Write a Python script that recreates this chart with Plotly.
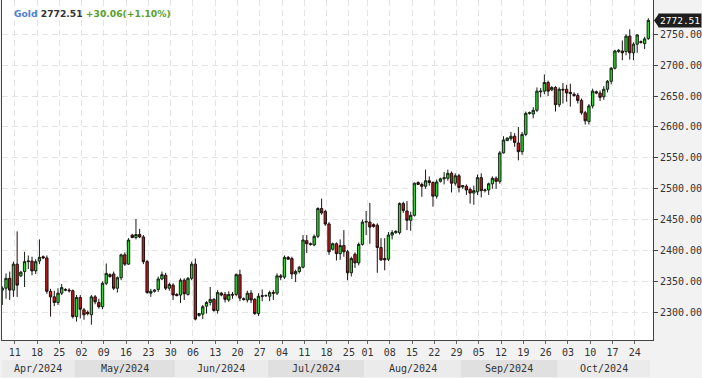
import datetime as dt
import plotly.graph_objects as go

# ---------------- data ----------------
dates = [
    "2024-04-08", "2024-04-09", "2024-04-10", "2024-04-11", "2024-04-12",
    "2024-04-14", "2024-04-15", "2024-04-16", "2024-04-17", "2024-04-18", "2024-04-19",
    "2024-04-21", "2024-04-22", "2024-04-23", "2024-04-24", "2024-04-25", "2024-04-26",
    "2024-04-28", "2024-04-29", "2024-04-30", "2024-05-01", "2024-05-02", "2024-05-03",
    "2024-05-05", "2024-05-06", "2024-05-07", "2024-05-08", "2024-05-09", "2024-05-10",
    "2024-05-12", "2024-05-13", "2024-05-14", "2024-05-15", "2024-05-16", "2024-05-17",
    "2024-05-19", "2024-05-20", "2024-05-21", "2024-05-22", "2024-05-23", "2024-05-24",
    "2024-05-26", "2024-05-27", "2024-05-28", "2024-05-29", "2024-05-30", "2024-05-31",
    "2024-06-02", "2024-06-03", "2024-06-04", "2024-06-05", "2024-06-06", "2024-06-07",
    "2024-06-09", "2024-06-10", "2024-06-11", "2024-06-12", "2024-06-13", "2024-06-14",
    "2024-06-16", "2024-06-17", "2024-06-18", "2024-06-19", "2024-06-20", "2024-06-21",
    "2024-06-23", "2024-06-24", "2024-06-25", "2024-06-26", "2024-06-27", "2024-06-28",
    "2024-06-30", "2024-07-01", "2024-07-02", "2024-07-03", "2024-07-04", "2024-07-05",
    "2024-07-07", "2024-07-08", "2024-07-09", "2024-07-10", "2024-07-11", "2024-07-12",
    "2024-07-14", "2024-07-15", "2024-07-16", "2024-07-17", "2024-07-18", "2024-07-19",
    "2024-07-21", "2024-07-22", "2024-07-23", "2024-07-24", "2024-07-25", "2024-07-26",
    "2024-07-29", "2024-07-30", "2024-07-31", "2024-08-01", "2024-08-02",
    "2024-08-04", "2024-08-05", "2024-08-06", "2024-08-07", "2024-08-08", "2024-08-09",
    "2024-08-11", "2024-08-12", "2024-08-13", "2024-08-14", "2024-08-15", "2024-08-16",
    "2024-08-18", "2024-08-19", "2024-08-20", "2024-08-21", "2024-08-22", "2024-08-23",
    "2024-08-25", "2024-08-26", "2024-08-27", "2024-08-28", "2024-08-29", "2024-08-30",
    "2024-09-01", "2024-09-02", "2024-09-03", "2024-09-04", "2024-09-05", "2024-09-06",
    "2024-09-08", "2024-09-09", "2024-09-10", "2024-09-11", "2024-09-12", "2024-09-13",
    "2024-09-15", "2024-09-16", "2024-09-17", "2024-09-18", "2024-09-19", "2024-09-20",
    "2024-09-22", "2024-09-23", "2024-09-24", "2024-09-25", "2024-09-26", "2024-09-27",
    "2024-09-29", "2024-09-30", "2024-10-01", "2024-10-02", "2024-10-03", "2024-10-04",
    "2024-10-06", "2024-10-07", "2024-10-08", "2024-10-09", "2024-10-10", "2024-10-11",
    "2024-10-13", "2024-10-14", "2024-10-15", "2024-10-16", "2024-10-17", "2024-10-18",
    "2024-10-20", "2024-10-21", "2024-10-22", "2024-10-23", "2024-10-24", "2024-10-25",
    "2024-10-27", "2024-10-28", "2024-10-29",
]

opens = [
    2336, 2339, 2355, 2336, 2378,
    2359, 2366, 2382, 2383, 2367, 2383,
    2390, 2388, 2334, 2325, 2316, 2331,
    2337, 2336, 2335, 2293, 2324, 2304,
    2300, 2296, 2325, 2316, 2309, 2347,
    2361, 2362, 2339, 2356, 2393, 2378,
    2425, 2421, 2426, 2422, 2382, 2331,
    2334, 2337, 2354, 2360, 2339, 2344,
    2329, 2328, 2352, 2329, 2355, 2378,
    2295, 2297, 2310, 2316, 2321, 2303,
    2331, 2329, 2320, 2329, 2329, 2361,
    2322, 2320, 2331, 2321, 2298, 2327,
    2327, 2326, 2332, 2331, 2359, 2357,
    2389, 2387, 2362, 2366, 2373, 2416,
    2411, 2409, 2423, 2468, 2463, 2443,
    2402, 2411, 2395, 2408, 2398, 2364,
    2394, 2380, 2410, 2446, 2446,
    2442, 2441, 2405, 2387, 2386, 2425,
    2429, 2429, 2476, 2464, 2449, 2457,
    2510, 2507, 2504, 2513, 2510, 2488,
    2512, 2516, 2517, 2525, 2509, 2521,
    2503, 2504, 2499, 2493, 2495, 2518,
    2497, 2498, 2508, 2517, 2512, 2558,
    2578, 2581, 2585, 2574, 2560, 2588,
    2622, 2621, 2627, 2657, 2658, 2672,
    2660, 2664, 2636, 2661, 2661, 2656,
    2653, 2651, 2643, 2623, 2609, 2634,
    2657, 2655, 2649, 2661, 2674, 2695,
    2722, 2723, 2722, 2747, 2720, 2734,
    2738, 2735, 2743,
]

highs = [
    2342, 2363, 2366, 2382, 2431,
    2367, 2398, 2392, 2390, 2386, 2418,
    2392, 2392, 2338, 2335, 2339, 2346,
    2339, 2339, 2337, 2328, 2328, 2307,
    2303, 2328, 2328, 2322, 2350, 2379,
    2363, 2366, 2358, 2395, 2397, 2420,
    2427, 2451, 2435, 2425, 2385, 2338,
    2337, 2358, 2366, 2364, 2348, 2347,
    2331, 2355, 2355, 2357, 2382, 2387,
    2299, 2312, 2318, 2341, 2323, 2336,
    2333, 2333, 2334, 2333, 2363, 2369,
    2324, 2335, 2336, 2323, 2331, 2337,
    2329, 2335, 2336, 2363, 2362, 2392,
    2391, 2390, 2369, 2375, 2425, 2425,
    2413, 2426, 2470, 2484, 2466, 2446,
    2413, 2413, 2418, 2433, 2401, 2390,
    2397, 2413, 2450, 2464, 2477,
    2444, 2444, 2420, 2420, 2430, 2433,
    2433, 2478, 2479, 2480, 2463, 2510,
    2512, 2510, 2531, 2520, 2512, 2515,
    2518, 2527, 2531, 2528, 2525, 2524,
    2506, 2507, 2502, 2505, 2523, 2525,
    2500, 2510, 2520, 2520, 2561, 2585,
    2583, 2592, 2590, 2600, 2592, 2625,
    2625, 2632, 2664, 2663, 2685, 2675,
    2666, 2666, 2664, 2671, 2668, 2670,
    2656, 2655, 2646, 2626, 2637, 2662,
    2659, 2659, 2666, 2676, 2697, 2725,
    2726, 2740, 2750, 2758, 2737, 2750,
    2740, 2746, 2776,
]

lows = [
    2312, 2322, 2320, 2325, 2325,
    2357, 2341, 2370, 2360, 2362, 2378,
    2386, 2330, 2293, 2310, 2312, 2328,
    2334, 2332, 2290, 2285, 2290, 2288,
    2295, 2280, 2313, 2306, 2305, 2344,
    2356, 2336, 2332, 2352, 2375, 2377,
    2420, 2418, 2420, 2378, 2330, 2325,
    2332, 2333, 2352, 2336, 2335, 2320,
    2326, 2315, 2320, 2327, 2352, 2287,
    2293, 2289, 2298, 2311, 2301, 2298,
    2326, 2316, 2317, 2322, 2326, 2318,
    2319, 2316, 2315, 2296, 2294, 2318,
    2325, 2318, 2320, 2328, 2352, 2354,
    2385, 2354, 2349, 2363, 2371, 2396,
    2408, 2407, 2420, 2458, 2440, 2393,
    2400, 2384, 2385, 2390, 2352, 2358,
    2372, 2376, 2408, 2425, 2411,
    2437, 2364, 2383, 2368, 2383, 2418,
    2427, 2426, 2461, 2433, 2432, 2455,
    2506, 2487, 2500, 2505, 2471, 2484,
    2510, 2507, 2513, 2494, 2505, 2494,
    2500, 2490, 2476, 2474, 2490, 2486,
    2494, 2490, 2500, 2500, 2508, 2557,
    2577, 2578, 2568, 2546, 2555, 2585,
    2620, 2614, 2624, 2648, 2653, 2650,
    2658, 2625, 2632, 2638, 2641, 2633,
    2649, 2638, 2620, 2604, 2604, 2630,
    2653, 2642, 2644, 2656, 2669, 2693,
    2720, 2708, 2716, 2709, 2708, 2720,
    2735, 2726, 2741,
]

closes = [
    2339, 2355, 2336, 2378, 2344,
    2365, 2382, 2383, 2367, 2382, 2389,
    2388, 2334, 2325, 2316, 2331, 2340,
    2336, 2335, 2293, 2324, 2305, 2296,
    2298, 2325, 2317, 2309, 2347, 2363,
    2358, 2339, 2356, 2393, 2378, 2417,
    2421, 2426, 2422, 2382, 2332, 2334,
    2336, 2354, 2361, 2339, 2345, 2328,
    2327, 2352, 2330, 2355, 2378, 2289,
    2298, 2309, 2316, 2321, 2303, 2332,
    2328, 2321, 2329, 2328, 2361, 2323,
    2321, 2331, 2320, 2298, 2326, 2326,
    2327, 2332, 2331, 2359, 2357, 2389,
    2386, 2362, 2366, 2373, 2417, 2411,
    2410, 2423, 2468, 2461, 2443, 2398,
    2411, 2395, 2408, 2398, 2364, 2387,
    2380, 2410, 2446, 2447, 2438,
    2439, 2405, 2385, 2385, 2425, 2429,
    2431, 2476, 2465, 2449, 2457, 2509,
    2507, 2504, 2513, 2510, 2488, 2511,
    2516, 2518, 2525, 2509, 2521, 2502,
    2505, 2498, 2493, 2497, 2518, 2497,
    2498, 2508, 2517, 2512, 2558, 2579,
    2582, 2585, 2575, 2560, 2588, 2622,
    2623, 2627, 2658, 2658, 2672, 2658,
    2664, 2636, 2661, 2660, 2655, 2654,
    2651, 2643, 2623, 2610, 2634, 2658,
    2655, 2648, 2661, 2674, 2695, 2723,
    2724, 2720, 2747, 2720, 2734, 2749,
    2737, 2742.45, 2772.51,
]

y_ticks = [2300, 2350, 2400, 2450, 2500, 2550, 2600, 2650, 2700, 2750]
symbol = "Gold"

# ---------------- derived ----------------
days = [dt.date.fromisoformat(d) for d in dates]
idx = list(range(len(days)))

tick_vals, tick_text = [], []
for i, d in enumerate(days):
    if d.weekday() == 3:  # Thursday
        tick_vals.append(i + 0.35)
        tick_text.append(d.strftime("%d"))

# month bands
months = []
for i, d in enumerate(days):
    key = (d.year, d.month)
    if not months or months[-1][0] != key:
        months.append([key, i, i, d])
    else:
        months[-1][2] = i

last = closes[-1]
prev = closes[-2]
chg = last - prev
pct = chg / prev * 100

W, H = 702, 378
ML, MR, MT, MB = 2, 46, 0, 38
PW, PH = W - ML - MR, H - MT - MB

fig = go.Figure()
fig.add_trace(go.Candlestick(
    x=idx, open=opens, high=highs, low=lows, close=closes,
    increasing=dict(fillcolor="#2bdc2b", line=dict(color="#141f14", width=1)),
    decreasing=dict(fillcolor="#c81818", line=dict(color="#1f0e0e", width=1)),
    whiskerwidth=0,
    hoverinfo="skip",
))

shapes = []
annotations = []
band_colors = ["#ebebeb", "#e0e0e0"]
for j, (key, a, b, d) in enumerate(months):
    shapes.append(dict(
        type="rect", xref="x", yref="paper",
        x0=a - 0.5, x1=b + 0.5, y0=-20 / PH, y1=-37 / PH,
        fillcolor=band_colors[j % 2], line=dict(width=0), layer="below",
    ))
    annotations.append(dict(
        x=(a + b) / 2, y=-28.5 / PH, xref="x", yref="paper",
        text=d.strftime("%b/%Y"), showarrow=False,
        font=dict(family="DejaVu Sans Mono", size=10, color="#333"),
        xanchor="center", yanchor="middle",
    ))

# price tag on the right axis
yr = [2255.2, 2805.5]
ppx = (yr[1] - yr[0]) / PH
shapes.append(dict(
    type="path", xref="paper", yref="y",
    path=(f"M {1 + 1 / PW} {last} L {1 + 6 / PW} {last + 7 * ppx} "
          f"L {1 + 6 / PW} {last - 7 * ppx} Z"),
    fillcolor="#1e1e1e", line=dict(width=0),
))
annotations.append(dict(
    x=1 + 5 / PW, y=last, xref="paper", yref="y",
    text=f"{last:.2f}", showarrow=False, xanchor="left", yanchor="middle",
    font=dict(family="DejaVu Sans Mono", size=9.5, color="#ffffff"),
    bgcolor="#1e1e1e", borderpad=1,
))

# header text
annotations.append(dict(
    x=10 / PW, y=1 - 14 / PH, xref="paper", yref="paper",
    xanchor="left", yanchor="middle", showarrow=False,
    text=(f"<b><span style='color:#4f7fd5'>{symbol}</span> "
          f"<span style='color:#333333'>{last:.2f}</span> "
          f"<span style='color:#5a9e2c'>{chg:+.2f}({pct:+.2f}%)</span></b>"),
    font=dict(family="DejaVu Sans", size=9.2),
))

fig.update_layout(
    width=W, height=H,
    margin=dict(l=ML, r=MR, t=MT, b=MB),
    paper_bgcolor="#f2f2f2", plot_bgcolor="#ffffff",
    showlegend=False, boxgap=0.1,
    shapes=shapes, annotations=annotations,
    xaxis=dict(
        range=[-0.08, 175.26], rangeslider=dict(visible=False),
        tickmode="array", tickvals=tick_vals, ticktext=tick_text,
        showgrid=True, gridcolor="#e4e4e4", griddash="6px,4px", gridwidth=1,
        showline=True, linecolor="#444", linewidth=1,
        ticks="outside", ticklen=3, tickcolor="#666",
        tickfont=dict(family="DejaVu Sans Mono", size=10, color="#333"),
        zeroline=False, fixedrange=True,
    ),
    yaxis=dict(
        side="right", range=yr,
        tickmode="array", tickvals=y_ticks,
        ticktext=[f"{v:.2f}" for v in y_ticks],
        showgrid=True, gridcolor="#e4e4e4", griddash="6px,4px", gridwidth=1,
        showline=True, linecolor="#444", linewidth=1, mirror=True,
        ticks="outside", ticklen=4, tickcolor="#444",
        tickfont=dict(family="DejaVu Sans Mono", size=10, color="#333"),
        zeroline=False, fixedrange=True,
    ),
)

fig.write_html("out.html")
